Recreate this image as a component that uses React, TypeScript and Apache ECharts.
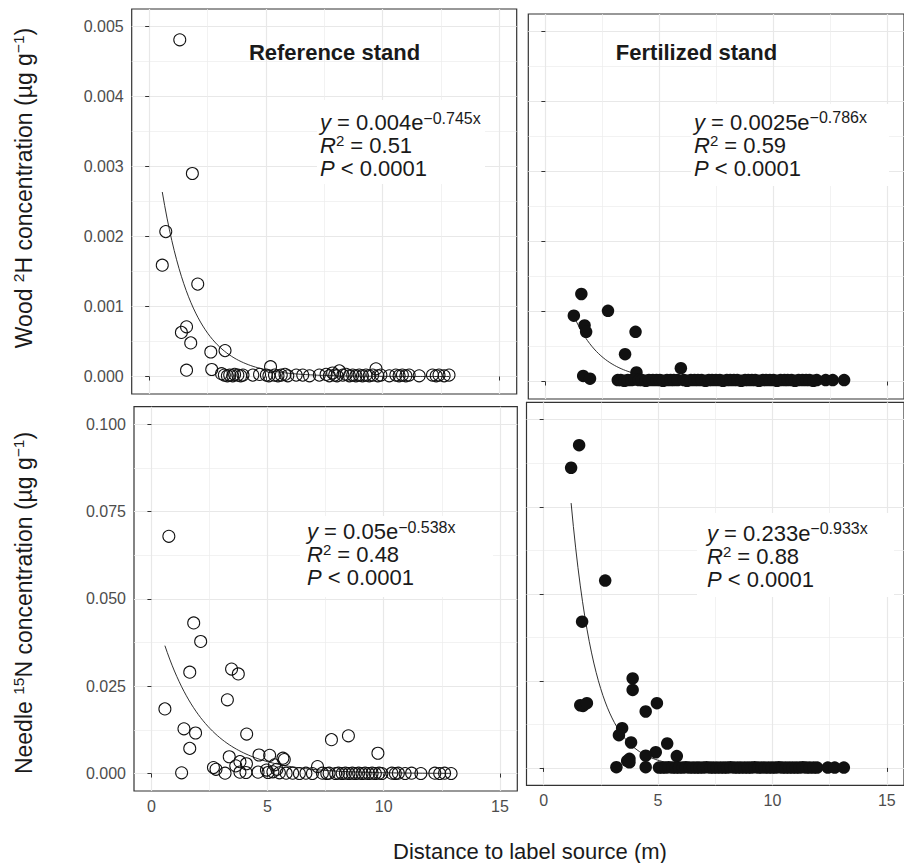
import React, { useEffect, useRef } from "react";
import * as echarts from "echarts";

// ---------- axis ticks ----------
const xTicks = [0, 5, 10, 15];
const xMinorTicks = [2.5, 7.5, 12.5];
const woodTicks = [0, 0.001, 0.002, 0.003, 0.004, 0.005];
const woodMinorTicks = [0.0005, 0.0015, 0.0025, 0.0035, 0.0045];
const needleTicks = [0, 0.025, 0.05, 0.075, 0.1];
const needleMinorTicks = [0.0125, 0.0375, 0.0625, 0.0875];

// ---------- data: Reference stand, wood 2H ----------
const refWoodX = [1.31, 1.85, 0.71, 0.56, 2.08, 1.6, 1.38, 1.78, 1.6, 2.64, 3.25, 2.68, 5.2, 9.72, 8.15, 7.86,
  3.1, 3.22, 3.35, 3.45, 3.58, 3.66, 3.8, 3.92, 4.02, 4.44, 4.73, 5.02, 5.13, 5.37, 5.52, 5.66, 5.82, 5.94,
  6.3, 6.58, 6.87, 7.29, 7.58, 7.72, 7.95, 8.05, 8.3, 8.44, 8.58, 8.72, 8.86, 9.0, 9.14, 9.29, 9.43, 9.58,
  9.8, 9.93, 10.29, 10.57, 10.71, 10.85, 11.0, 11.14, 11.57, 12.14, 12.3, 12.42, 12.64, 12.85];
const refWoodY = [0.00481, 0.0029, 0.00207, 0.00159, 0.00132, 0.00071, 0.00063, 0.00048, 0.00009, 0.00035, 0.00037, 0.0001, 0.00014, 0.00011, 0.00008, 0.00005,
  0.00004, 0.00002, 0.00001, 0.00002, 0.00001, 0.00003, 0.00002, 0.00001, 0.00002, 0.00002, 0.00003, 0.00002, 0.00001, 0.00002, 0.00001, 0.00002, 0.00003, 0.00001,
  0.00002, 0.00002, 0.00001, 0.00002, 0.00003, 0.00001, 0.00002, 0.00001, 0.00002, 0.00003, 0.00001, 0.00002, 0.00001, 0.00002, 0.00001, 0.00002, 0.00001, 0.00002,
  0.00001, 0.00002, 0.00001, 0.00002, 0.00001, 0.00002, 0.00001, 0.00002, 0.00001, 0.00002, 0.00001, 0.00002, 0.00001, 0.00002];

// ---------- data: Fertilized stand, wood 2H ----------
const fertWoodX = [1.25, 1.58, 1.72, 1.79, 1.66, 1.96, 2.75, 3.5, 3.96, 4.0, 5.95,
  3.18, 3.31, 3.47, 3.62, 3.78, 3.92, 4.1, 4.24, 4.41, 4.55, 4.72, 4.88, 5.03, 5.17, 5.34, 5.5, 5.64, 5.81,
  6.08, 6.22, 6.39, 6.55, 6.7, 6.86, 7.03, 7.18, 7.32, 7.49, 7.66, 7.8, 7.97, 8.12, 8.28, 8.43, 8.6, 8.77,
  8.91, 9.07, 9.22, 9.38, 9.55, 9.69, 9.86, 10.02, 10.17, 10.33, 10.5, 10.64, 10.81, 10.96, 11.12, 11.29,
  11.45, 11.6, 11.77, 11.92, 12.31, 12.62, 13.12];
const fertWoodY = [0.00094, 0.00125, 0.0008, 0.00071, 0.00008, 0.00004, 0.00101, 0.00039, 0.00071, 0.00013, 0.00019,
  0.00002, 0.00002, 0.00001, 0.00002, 0.00002, 0.00003, 0.00002, 0.00002, 0.00001, 0.00002, 0.00002, 0.00002, 0.00002, 0.00001, 0.00002, 0.00002, 0.00002, 0.00002,
  0.00002, 0.00001, 0.00002, 0.00002, 0.00002, 0.00002, 0.00001, 0.00002, 0.00002, 0.00002, 0.00002, 0.00001, 0.00002, 0.00002, 0.00002, 0.00002, 0.00001, 0.00002,
  0.00002, 0.00002, 0.00002, 0.00001, 0.00002, 0.00002, 0.00002, 0.00002, 0.00001, 0.00002, 0.00002, 0.00002, 0.00002, 0.00001, 0.00002, 0.00002,
  0.00002, 0.00002, 0.00001, 0.00002, 0.00002, 0.00002, 0.00002];

// ---------- data: Reference stand, needle 15N ----------
const refNeedleX = [0.75, 0.58, 1.82, 2.12, 1.65, 3.45, 3.74, 3.27, 1.4, 1.9, 1.65, 1.3, 4.1, 7.75, 8.48, 9.75,
  3.35, 4.63, 5.09, 5.66, 5.72, 3.81, 3.63, 4.09, 2.67, 2.78, 3.17, 3.81, 4.07, 4.59, 5.02, 5.23, 5.3, 5.51, 5.8, 7.15, 4.95, 5.4,
  6.08, 6.37, 6.65, 6.93, 7.36, 7.55, 7.65, 7.93, 8.05, 8.21, 8.35, 8.5, 8.65, 8.78, 8.92, 9.07, 9.2, 9.35, 9.5,
  9.64, 9.8, 9.92, 10.35, 10.5, 10.63, 10.92, 11.2, 11.6, 12.2, 12.41, 12.62, 12.9];
const refNeedleY = [0.0679, 0.0185, 0.0431, 0.0378, 0.029, 0.0299, 0.0285, 0.0211, 0.0128, 0.0116, 0.0072, 0.0002, 0.0113, 0.0097, 0.0108, 0.0058,
  0.0048, 0.0053, 0.0052, 0.0044, 0.004, 0.0034, 0.0022, 0.0028, 0.0017, 0.0012, 0.0001, 0.0004, 0.0003, 0.0004, 0.0003, 0.0005, 0.0025, 0.0002, 0.0001, 0.002, 0.001, 0.0012,
  0.0001, 0.0, 0.0001, 0.0, 0.0001, 0.0, 0.0001, 0.0, 0.0001, 0.0, 0.0001, 0.0, 0.0001, 0.0, 0.0001, 0.0, 0.0001, 0.0, 0.0001,
  0.0, 0.0001, 0.0, 0.0001, 0.0, 0.0001, 0.0, 0.0001, 0.0, 0.0001, 0.0, 0.0001, 0.0];

// ---------- data: Fertilized stand, needle 15N ----------
const fertNeedleX = [1.55, 1.2, 2.69, 1.68, 1.6, 1.72, 1.89, 3.89, 3.89, 4.95, 4.46, 3.43, 3.29, 3.82, 5.4, 4.9, 4.46, 5.82, 3.75, 3.65, 3.18, 4.46, 3.75,
  5.04, 5.18, 5.33, 5.47, 5.63, 5.78, 5.92, 6.08, 6.22, 6.37, 6.53, 6.68, 6.81, 6.97, 7.12, 7.28, 7.42, 7.57, 7.73, 7.88,
  8.02, 8.17, 8.33, 8.48, 8.62, 8.78, 8.93, 9.07, 9.22, 9.38, 9.53, 9.67, 9.83, 9.98, 10.13, 10.28, 10.43, 10.58, 10.73,
  10.88, 11.03, 11.18, 11.33, 11.48, 11.63, 11.8, 11.95, 12.42, 12.72, 13.12];
const fertNeedleY = [0.0927, 0.0862, 0.0538, 0.042, 0.018, 0.0178, 0.0186, 0.0257, 0.0224, 0.0186, 0.0162, 0.0114, 0.0094, 0.0073, 0.007, 0.0045, 0.0035, 0.0034, 0.0026, 0.002, 0.0002, 0.0002, 0.0016,
  0.0001, 0.0001, 0.0001, 0.0002, 0.0001, 0.0001, 0.0001, 0.0001, 0.0002, 0.0001, 0.0001, 0.0001, 0.0001, 0.0001, 0.0002, 0.0001, 0.0001, 0.0001, 0.0001, 0.0001,
  0.0001, 0.0002, 0.0001, 0.0001, 0.0001, 0.0001, 0.0001, 0.0001, 0.0002, 0.0001, 0.0001, 0.0001, 0.0001, 0.0001, 0.0001, 0.0002, 0.0001, 0.0001, 0.0001,
  0.0001, 0.0001, 0.0001, 0.0002, 0.0001, 0.0001, 0.0001, 0.0001, 0.0001, 0.0001, 0.0001];

// ---------- fitted models (y = a * e^(-k x)) ----------
const fitA = [0.004, 0.0025, 0.05, 0.233];
const fitK = [0.745, 0.786, 0.538, 0.933];
const fitR2 = ["0.51", "0.59", "0.48", "0.88"];
const fitP = ["0.0001", "0.0001", "0.0001", "0.0001"];

const panelTitles = ["Reference stand", "Fertilized stand"];
const xTitle = "Distance to label source (m)";

const FONT = '"Liberation Sans", Arial, Helvetica, sans-serif';
const INK = "#1a1a1a";

const panelsX = [refWoodX, fertWoodX, refNeedleX, fertNeedleX];
const panelsY = [refWoodY, fertWoodY, refNeedleY, fertNeedleY];
const filled = [false, true, false, true];

// layout (pixels)
const grids = [
  { left: 131.7, top: 9, width: 385, height: 385 },
  { left: 528.3, top: 14, width: 385, height: 385 },
  { left: 134, top: 406.7, width: 383.3, height: 384.3 },
  { left: 526.5, top: 402.3, width: 385, height: 383 },
];
const eqBoxes = [
  { x: 317, y: 100, w: 168, h: 84, tx: 320, ty: 122.5 },
  { x: 691, y: 104, w: 198, h: 82, tx: 694, ty: 122 },
  { x: 300, y: 516, w: 193, h: 81, tx: 307, ty: 531.5 },
  { x: 697, y: 513, w: 197, h: 84, tx: 707, ty: 533 },
];

function fitCurve(i: number) {
  const xs = panelsX[i];
  const lo = Math.min(...xs);
  const hi = Math.max(...xs);
  const pts: number[][] = [];
  const n = 120;
  for (let j = 0; j <= n; j++) {
    const x = lo + ((hi - lo) * j) / n;
    pts.push([x, fitA[i] * Math.exp(-fitK[i] * x)]);
  }
  return pts;
}

function buildOption() {
  const xAxis: any[] = [];
  const yAxis: any[] = [];
  const series: any[] = [];
  const graphic: any[] = [];

  grids.forEach((_, gi) => {
    const isWood = gi < 2;
    const yMin = isWood ? -0.00025 : -0.005;
    const yMax = isWood ? 0.00525 : 0.105;
    const yT = isWood ? woodTicks : needleTicks;
    const yM = isWood ? woodMinorTicks : needleMinorTicks;
    const showXLabels = gi >= 2;
    const showYLabels = gi === 0 || gi === 2;
    xAxis.push({
      type: "value", gridIndex: gi, min: -0.75, max: 15.75, position: "bottom",
      axisLine: { show: false },
      axisTick: { show: true, customValues: xTicks, length: 4, lineStyle: { color: "#333", width: 1 } },
      axisLabel: { show: showXLabels, customValues: xTicks, margin: 7, color: "#4d4d4d", fontSize: 16, fontFamily: FONT },
      splitLine: { show: true, lineStyle: { color: "#e8e8e8", width: 1.2 } },
    });
    xAxis.push({
      type: "value", gridIndex: gi, min: -0.75, max: 15.75, position: "top",
      axisLine: { show: false },
      axisTick: { show: false, customValues: xMinorTicks },
      axisLabel: { show: false, customValues: xMinorTicks },
      splitLine: { show: true, lineStyle: { color: "#ececec", width: 0.7 } },
    });
    yAxis.push({
      type: "value", gridIndex: gi, min: yMin, max: yMax, position: "left",
      axisLine: { show: false },
      axisTick: { show: true, customValues: yT, length: 4, lineStyle: { color: "#333", width: 1 } },
      axisLabel: {
        show: showYLabels, customValues: yT, margin: 8, color: "#4d4d4d", fontSize: 16, fontFamily: FONT,
        formatter: (v: number) => v.toFixed(3),
      },
      splitLine: { show: true, lineStyle: { color: "#e8e8e8", width: 1.2 } },
    });
    yAxis.push({
      type: "value", gridIndex: gi, min: yMin, max: yMax, position: "right",
      axisLine: { show: false },
      axisTick: { show: false, customValues: yM },
      axisLabel: { show: false, customValues: yM },
      splitLine: { show: true, lineStyle: { color: "#ececec", width: 0.7 } },
    });

    series.push({
      type: "line", xAxisIndex: gi * 2, yAxisIndex: gi * 2, data: fitCurve(gi),
      showSymbol: false, symbol: "none", smooth: false, z: 2,
      lineStyle: { color: INK, width: 0.9, opacity: 1 }, silent: true,
    });
    series.push({
      type: "scatter", xAxisIndex: gi * 2, yAxisIndex: gi * 2, z: 3,
      data: panelsX[gi].map((x, k) => [x, panelsY[gi][k]]),
      symbol: "circle",
      symbolSize: filled[gi] ? 12.5 : 12,
      itemStyle: filled[gi]
        ? { color: "#111", borderWidth: 0, opacity: 1 }
        : { color: "rgba(0,0,0,0)", borderColor: "#111", borderWidth: 1.05, opacity: 1 },
      silent: true,
    });

    // equation label
    const b = eqBoxes[gi];
    const rich = {
      n: { fontFamily: FONT, fontSize: 22, lineHeight: 25, fill: INK, verticalAlign: "middle" },
      i: { fontFamily: FONT, fontSize: 22, lineHeight: 25, fill: INK, fontStyle: "italic", verticalAlign: "middle" },
      s: { fontFamily: FONT, fontSize: 16, lineHeight: 14, fill: INK, verticalAlign: "top" },
      r: { fontFamily: FONT, fontSize: 15, lineHeight: 17, fill: INK, verticalAlign: "top" },
    };
    graphic.push({ type: "rect", z: 1, shape: { x: b.x, y: b.y, width: b.w, height: b.h }, style: { fill: "#fff" }, silent: true });
    const lines = [
      `{i|y}{n| = ${fitA[gi]}e}{s|\u2212${fitK[gi]}x}`,
      `{i|R}{r|2}{n| = ${fitR2[gi]}}`,
      `{i|P}{n| < ${fitP[gi]}}`,
    ];
    lines.forEach((t, li) => {
      graphic.push({
        type: "text", z: 5, x: b.tx, y: b.ty + li * 23, silent: true,
        style: { text: t, rich, align: "left", verticalAlign: "middle", fontFamily: FONT, fontSize: 22, fill: INK },
      });
    });
  });

  // panel titles
  graphic.push({
    type: "text", z: 5, x: 334.5, y: 52, silent: true,
    style: { text: panelTitles[0], fontFamily: FONT, fontSize: 22, fontWeight: "bold", fill: INK, align: "center", verticalAlign: "middle" },
  });
  graphic.push({
    type: "text", z: 5, x: 696.5, y: 52, silent: true,
    style: { text: panelTitles[1], fontFamily: FONT, fontSize: 22, fontWeight: "bold", fill: INK, align: "center", verticalAlign: "middle" },
  });

  // axis titles
  const richT = {
    n: { fontFamily: FONT, fontSize: 23, lineHeight: 28, fill: INK, verticalAlign: "middle" },
    s: { fontFamily: FONT, fontSize: 15.5, lineHeight: 15, fill: INK, verticalAlign: "top" },
  };
  graphic.push({
    type: "text", z: 5, x: 24, y: 188, rotation: Math.PI / 2, silent: true,
    style: { text: "{n|Wood }{s|2}{n|H concentration (\u00b5g g}{s|\u22121}{n|)}", rich: richT, align: "center", verticalAlign: "middle", fontFamily: FONT, fontSize: 23, fill: INK },
  });
  graphic.push({
    type: "text", z: 5, x: 24, y: 603, rotation: Math.PI / 2, silent: true,
    style: { text: "{n|Needle }{s|15}{n|N concentration (\u00b5g g}{s|\u22121}{n|)}", rich: richT, align: "center", verticalAlign: "middle", fontFamily: FONT, fontSize: 23, fill: INK },
  });
  graphic.push({
    type: "text", z: 5, x: 530, y: 851, silent: true,
    style: { text: xTitle, fontFamily: FONT, fontSize: 22, fill: INK, align: "center", verticalAlign: "middle" },
  });

  return {
    animation: false,
    backgroundColor: "#fff",
    grid: grids.map((g) => ({ ...g, show: true, borderColor: "#333", borderWidth: 1.2, backgroundColor: "rgba(0,0,0,0)", containLabel: false })),
    xAxis,
    yAxis,
    series,
    graphic,
  };
}

export default function App() {
  const ref = useRef<HTMLDivElement>(null);
  useEffect(() => {
    document.body.style.margin = "0";
    const chart = echarts.init(ref.current as HTMLDivElement, null, { renderer: "svg", width: 904, height: 863 });
    chart.setOption(buildOption() as any);
    return () => chart.dispose();
  }, []);
  return <div ref={ref} style={{ width: 904, height: 863, overflow: "hidden" }} />;
}
